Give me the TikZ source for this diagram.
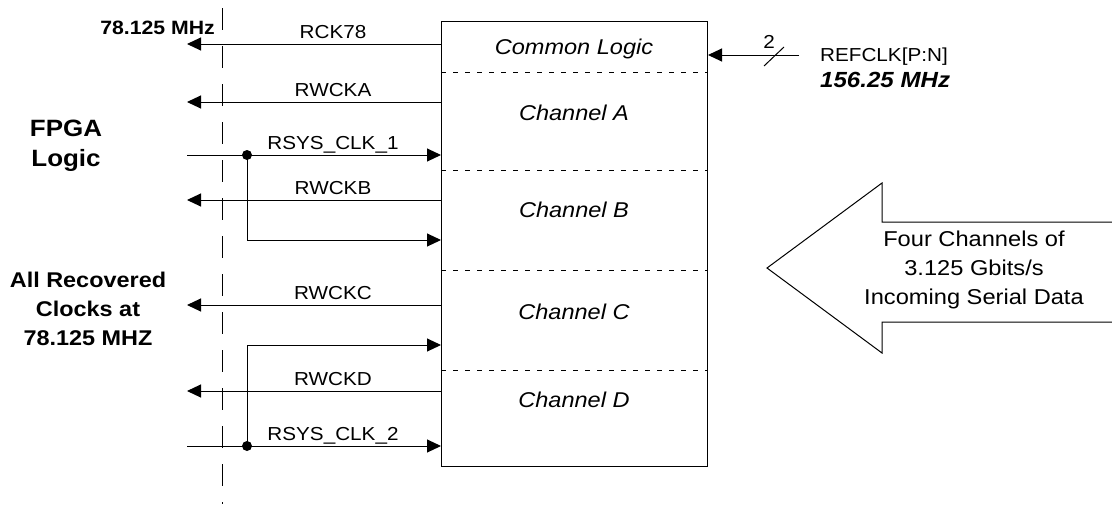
\documentclass[tikz,border=0pt]{standalone}
\usepackage{fontspec}
\setmainfont[FakeStretch=1.1]{Liberation Sans}
\usetikzlibrary{arrows.meta}

\begin{document}
\begin{tikzpicture}[x=1pt, y=-1pt,
  sig/.style={line width=1pt, -{Triangle[length=14pt, width=13pt]}},
  wire/.style={line width=1pt},
  sep/.style={line width=0.9pt, dash pattern=on 5pt off 7pt},
  divider/.style={line width=1pt, dash pattern=on 22pt off 16pt},
  lbl/.style={font=\fontsize{18.8}{22}\selectfont, anchor=base, inner sep=0pt},
  chan/.style={font=\itshape\fontsize{21.4}{24}\selectfont, anchor=base, inner sep=0pt},
  side/.style={font=\bfseries\fontsize{21.3}{29}\selectfont, align=center, inner sep=0pt}
]
\useasboundingbox (0,0) rectangle (1112,504);
\fill[white] (0,0) rectangle (1112,504);

% dashed edge of the FPGA fabric
\coordinate (div-top) at (222,8);
\coordinate (div-bot) at (222,504);
\draw[divider] (div-top) -- (div-bot);

% transceiver block and its sections
\node[draw, line width=1.3pt, anchor=north west, minimum width=266pt, minimum height=445pt, inner sep=0pt] (box) at (441,21) {};
\foreach \y in {72,170,270,370} \draw[sep] (441,\y) -- (707,\y);
\node[chan] (cl) at (574,54.5) {Common Logic};
\foreach \n/\y in {A/120.5, B/217.5, C/319.5, D/407.5}
  \node[chan] (ch\n) at (574,\y) {Channel \n};

% recovered clocks out
\foreach \n/\y/\lab in {rck/44/RCK78, cka/102/RWCKA, ckb/200/RWCKB, ckc/305/RWCKC, ckd/391/RWCKD} {
  \coordinate (\n-in) at (441,\y);
  \coordinate (\n-out) at (187,\y);
  \draw[sig] (\n-in) -- (\n-out);
  \node[lbl] (\n-lbl) at (333,\y-6) {\lab};
}

% system clocks in
\foreach \n/\y/\lab in {s1/155/RSYS\_CLK\_1, s2/446/RSYS\_CLK\_2} {
  \coordinate (\n-src) at (187,\y);
  \coordinate (\n-dst) at (441,\y);
  \coordinate (\n-dot) at (247,\y);
  \draw[sig] (\n-src) -- (\n-dst);
  \node[lbl] (\n-lbl) at (333,\y-6) {\lab};
}
\coordinate (lpb) at (441,240);
\coordinate (lpd) at (441,345);
\draw[sig] (s1-dot) |- (lpb);
\draw[sig] (s2-dot) |- (lpd);
\foreach \n in {s1,s2} \fill (\n-dot) circle (5pt);

% reference clock
\coordinate (ref-src) at (799,55);
\coordinate (ref-dst) at (708,55);
\draw[sig] (ref-src) -- (ref-dst);
\coordinate (bus-a) at (764,66);
\coordinate (bus-b) at (784,47);
\draw[wire] (bus-a) -- (bus-b);
\node[lbl] (bus) at (769,48.5) {2};
\node[lbl, anchor=base west] (ref) at (820,61.5) {REFCLK[P:N]};
\node[anchor=base west, inner sep=0pt, font=\bfseries\itshape\fontsize{21.9}{24}\selectfont] (refhz) at (820,87.5) {156.25 MHz};

% left side labels
\node[anchor=base east, inner sep=0pt, font=\bfseries\fontsize{19.3}{22}\selectfont] (hz) at (215,34) {78.125 MHz};
\node[side, font=\bfseries\fontsize{23.6}{30}\selectfont] (fpga) at (66,146) {FPGA\\Logic};
\node[side] (rec) at (88,308.5) {All Recovered\\Clocks at\\78.125 MHZ};

% incoming serial data
\draw[wire] (1112,222) -- (882,222) -- (882,183) -- (767,268) -- (882,353) -- (882,322) -- (1112,322);
\node[font=\fontsize{21.5}{29}\selectfont, align=center, inner sep=0pt] (data) at (974,270) {Four Channels of\\3.125 Gbits/s\\Incoming Serial Data};
\end{tikzpicture}
\end{document}
